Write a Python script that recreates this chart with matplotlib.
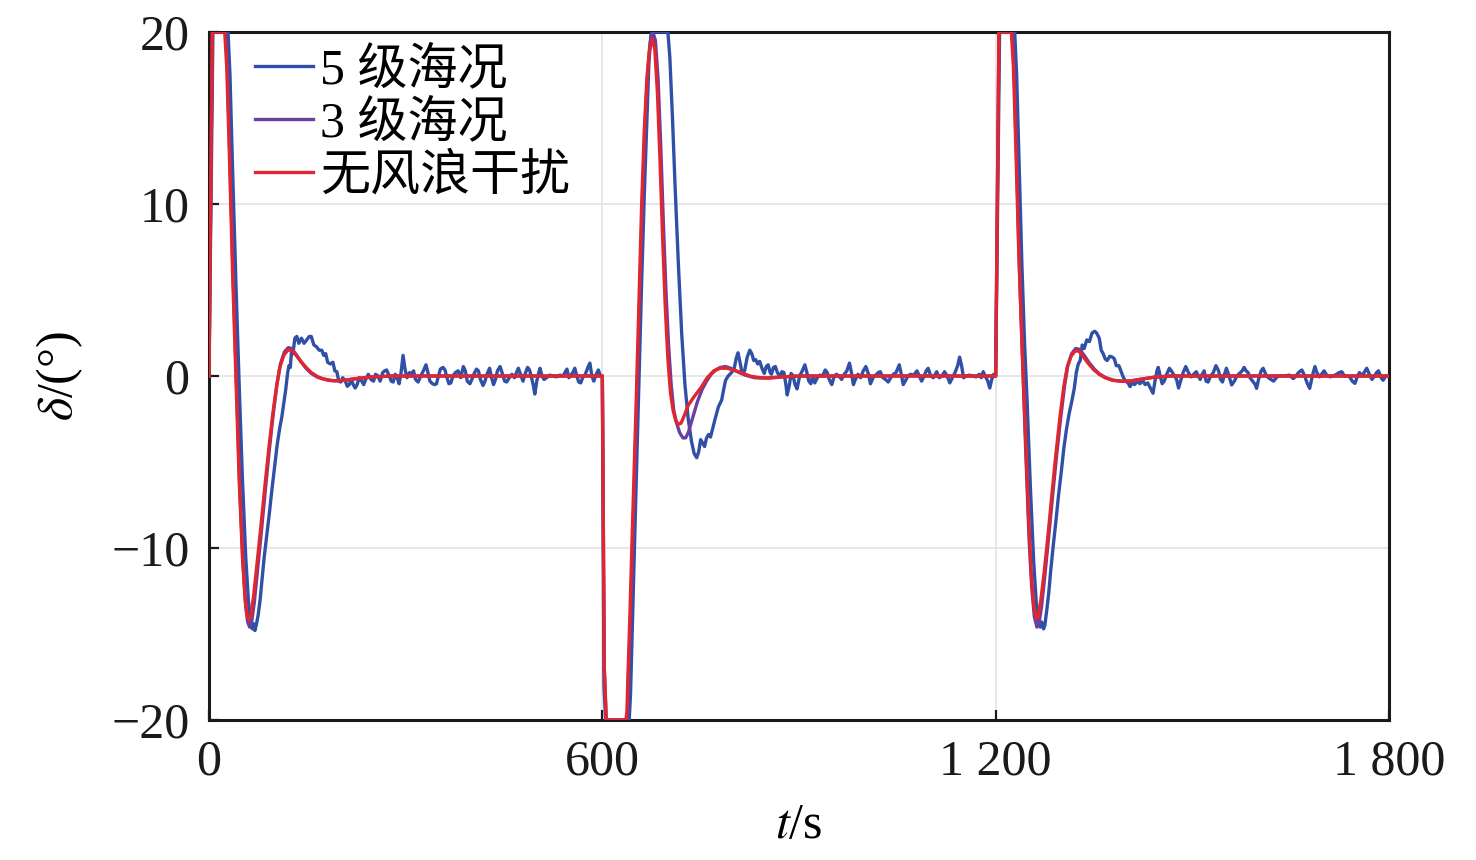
import numpy as np
import matplotlib
matplotlib.use('Agg')
import matplotlib.pyplot as plt
from matplotlib.font_manager import FontProperties

plt.rcParams['font.family'] = ['Liberation Serif', 'Noto Sans CJK SC']
plt.rcParams['mathtext.fontset'] = 'stix'
plt.rcParams['axes.unicode_minus'] = True

labels = ['5 级海况', '3 级海况', '无风浪干扰']
colors = ['#3050a8', '#6a3f9e', '#e0262f']

xticks = [0, 600, 1200, 1800]
xticklabels = ['0', '600', '1 200', '1 800']
yticks = [-20, -10, 0, 10, 20]

# 无风浪干扰 (red)
t_red = [0, 5, 24, 27, 31, 36, 41, 46, 51, 55, 58, 61, 64, 68, 73, 79, 85, 91, 97, 103,
         108, 114, 120, 126, 132, 140, 148, 156, 164, 172, 182, 194, 208, 225, 250, 280, 599,
         600, 603, 606, 636, 637.5, 639, 642, 645, 648.5, 652, 656, 660, 664, 668, 672, 676,
         680, 684, 688, 692, 696, 700, 704, 708, 712, 716, 720, 725, 731, 740, 750, 760, 770,
         780, 790, 800, 812, 825, 840, 855, 875, 900, 1199,
         1200, 1205, 1224, 1227, 1231, 1235, 1240, 1245, 1250, 1254, 1258, 1262, 1265, 1269,
         1274, 1280, 1286, 1292, 1298, 1304, 1309, 1315, 1321, 1327, 1334, 1342, 1350, 1358,
         1367, 1378, 1390, 1405, 1420, 1440, 1465, 1800]
v_red = [0, 20, 20, 18, 13, 6, 0, -6, -10.5, -12.9, -13.9, -14.2, -13.9, -12.8, -11.0, -8.8,
         -6.5, -4.3, -2.3, -0.6, 0.5, 1.2, 1.5, 1.5, 1.25, 0.85, 0.5, 0.2, 0.0, -0.15, -0.25,
         -0.28, -0.25, -0.15, -0.05, 0, 0,
         0, -17, -20, -20, -19.5, -17.5, -14, -10, -5.5, -1, 4.5, 10, 14.3, 17.3, 19.0, 19.6,
         19.0, 16.5, 12.5, 8, 4, 1, -1.0, -2.0, -2.6, -2.8, -2.75, -2.3, -1.7, -1.2, -0.7,
         -0.1, 0.3, 0.45, 0.45, 0.35, 0.2, 0.0, -0.1, -0.12, -0.05, 0, 0,
         0, 20, 20, 18, 13, 7.5, 2, -3, -8, -11.3, -13.3, -14.1, -14.0, -13.0, -11.4, -9.2,
         -6.8, -4.5, -2.4, -0.6, 0.5, 1.15, 1.45, 1.45, 1.1, 0.7, 0.35, 0.1, -0.1, -0.25,
         -0.3, -0.3, -0.2, -0.08, 0, 0]

# 3级海况 (purple)
t_pur = [0, 5, 25, 28, 32, 37, 42, 47, 52, 56, 59, 62, 65, 69, 74, 80, 86, 92, 98, 104,
         109, 115, 121, 126, 132, 140, 148, 156, 166, 178, 190, 205, 225, 250, 280, 599,
         600, 603, 606, 637, 638.5, 640, 643, 646, 649.5, 653, 657, 661, 665, 669, 673, 677,
         681, 685, 689, 693, 697, 701, 705, 709, 713, 718, 723, 727, 731, 738, 745, 752, 759,
         766, 773, 780, 788, 796, 806, 818, 832, 850, 875, 900, 1199,
         1200, 1205, 1225, 1228, 1232, 1236, 1241, 1246, 1251, 1255, 1259, 1263, 1266, 1270,
         1275, 1281, 1287, 1293, 1299, 1305, 1310, 1316, 1322, 1328, 1335, 1343, 1351, 1359,
         1368, 1380, 1392, 1407, 1422, 1442, 1467, 1800]
v_pur = [0, 20, 20, 18, 12.5, 5.5, -0.5, -6.5, -11, -13.4, -14.3, -14.6, -14.3, -13.2, -11.3,
         -9, -6.6, -4.3, -2.2, -0.4, 0.7, 1.4, 1.65, 1.6, 1.3, 0.85, 0.45, 0.15, -0.08, -0.2,
         -0.28, -0.25, -0.15, -0.05, 0, 0,
         0, -17, -20, -20, -19.5, -17.5, -14, -10, -5.5, -1, 4.5, 10, 14.5, 17.6, 19.4, 20,
         19.5, 17.3, 13.5, 9, 5, 1.8, -0.5, -2, -2.7, -3.3, -3.6, -3.6, -3.3, -2.4, -1.5,
         -0.8, -0.3, 0.1, 0.35, 0.5, 0.55, 0.45, 0.25, 0.05, -0.1, -0.12, -0.05, 0, 0,
         0, 20, 20, 18, 12.5, 6.5, 1, -4.5, -9.5, -12.3, -14.0, -14.6, -14.4, -13.4, -11.6,
         -9.3, -6.9, -4.6, -2.5, -0.6, 0.6, 1.3, 1.6, 1.55, 1.2, 0.75, 0.38, 0.1, -0.1, -0.25,
         -0.3, -0.28, -0.18, -0.07, 0, 0]

# 5级海况 (blue)
t_blu = [0, 6, 29, 32, 36, 41, 46, 51, 56, 60, 63, 66, 68, 70, 72, 75, 78, 81, 84, 88,
         92, 96, 100, 104, 108, 111, 114, 117, 120, 122, 124, 126, 128, 131, 134, 137, 141,
         145, 149, 153, 156, 160, 164, 168, 172, 175, 178, 181, 185, 189, 192, 195, 198, 201,
         204, 208, 211, 214, 217, 220, 223, 226, 229, 233, 236, 239, 243, 247, 251, 254, 258,
         261, 265, 268, 271, 275, 278, 281, 284, 287, 290, 293, 296, 299, 302, 306, 309, 312,
         315, 319, 323, 327, 331, 334, 337, 341, 344, 347, 350, 353, 357, 360, 363, 366, 369,
         372, 376, 380, 384, 388, 391, 394, 398, 401, 404, 408, 411, 414, 418, 421, 424, 428,
         431, 434, 437, 440, 444, 447, 451, 454, 458, 462, 466, 469, 472, 476, 479, 482, 486,
         489, 492, 495, 497, 500, 503, 505, 508, 511, 515, 520, 525, 530, 535, 540, 543, 546,
         549, 552, 555, 558, 561, 564, 567, 570, 574, 578, 581, 584, 587, 590, 594, 597, 599.5,
         600, 602.5, 605, 641, 643, 645.5, 649, 652.5, 656, 660, 664, 668, 671, 674, 676, 700,
         703, 707, 711, 716, 721, 726, 731, 736, 740, 744, 747, 750, 753, 756, 759, 762, 765,
         768, 772, 777, 782, 785, 788, 792, 797, 801, 804, 807, 810, 813, 817, 821, 825, 828,
         831, 834, 837, 840, 844, 847, 850, 853, 856, 858, 861, 864, 867, 871, 874, 877, 880,
         882, 885, 888, 891, 894, 897, 901, 905, 909, 912, 915, 918, 921, 924, 928, 932, 936,
         940, 943, 946, 950, 953, 957, 961, 965, 969, 973, 977, 980, 983, 986, 990, 994, 998,
         1002, 1006, 1009, 1013, 1017, 1021, 1024, 1028, 1032, 1036, 1040, 1044, 1048, 1053,
         1056, 1059, 1062, 1066, 1070, 1075, 1080, 1084, 1087, 1091, 1094, 1097, 1101, 1105,
         1110, 1114, 1118, 1122, 1126, 1130, 1134, 1138, 1142, 1145, 1148, 1151, 1155, 1160,
         1165, 1170, 1175, 1178, 1181, 1184, 1188, 1191, 1194, 1197, 1199.5,
         1200, 1206, 1229, 1232, 1236, 1240, 1244, 1248, 1253, 1258, 1262, 1265, 1268, 1270,
         1273, 1275, 1278, 1281, 1284, 1288, 1292, 1296, 1300, 1304, 1308, 1312, 1316, 1320,
         1323, 1326, 1329, 1332, 1335, 1339, 1343, 1347, 1351, 1354, 1358, 1361, 1364, 1367,
         1370, 1374, 1378, 1381, 1384, 1388, 1391, 1395, 1398, 1402, 1405, 1408, 1412, 1416,
         1420, 1424, 1428, 1432, 1436, 1440, 1443, 1446, 1448, 1451, 1454, 1457, 1461, 1465,
         1468, 1472, 1476, 1479, 1482, 1486, 1490, 1494, 1498, 1502, 1506, 1509, 1512, 1515,
         1518, 1521, 1524, 1528, 1532, 1536, 1540, 1543, 1546, 1549, 1552, 1556, 1560, 1564,
         1568, 1572, 1576, 1579, 1582, 1585, 1588, 1592, 1596, 1598, 1601, 1605, 1608, 1612,
         1616, 1620, 1624, 1628, 1632, 1640, 1648, 1654, 1658, 1662, 1667, 1671, 1675, 1679,
         1683, 1687, 1690, 1694, 1698, 1701, 1705, 1710, 1715, 1720, 1724, 1728, 1732, 1736,
         1740, 1744, 1748, 1752, 1755, 1758, 1762, 1766, 1770, 1774, 1778, 1781, 1784, 1788,
         1791, 1795, 1800]
v_blu = [0, 20, 20, 17.5, 12, 5.5, -0.5, -6, -10.5, -13, -14.2, -14.7, -14.4, -14.8, -14.5,
         -13.9, -13.0, -11.8, -10.6, -9.3, -8.0, -6.6, -5.3, -4.0, -3.0, -2.4, -1.6, -0.8, 0.2,
         0.6, 0.5, 1.5, 1.3, 2.2, 2.3, 1.9, 2.2, 1.9, 2.1, 2.3, 2.3, 1.8, 1.7, 1.5, 1.5, 1.2,
         1.3, 0.8, 0.7, 0.8, 0.3, 0.25, -0.3, -0.35, -0.1, -0.3, -0.6, -0.5, -0.2, -0.5, -0.7,
         -0.5, -0.1, -0.3, -0.5, -0.2, 0.1, -0.2, -0.3, 0.1, 0.0, -0.3, 0.2, 0.3, 0.35, 0.0,
         -0.3, -0.35, 0.1, -0.1, -0.45, 0.2, 1.2, 0.4, -0.1, 0.2, 0.1, 0.3, -0.2, -0.35, 0.0,
         0.3, 0.65, 0.2, -0.3, -0.45, -0.5, -0.45, 0.0, 0.4, 0.5, 0.35, -0.1, -0.45, -0.4, 0.0,
         0.2, 0.3, -0.1, 0.55, 0.3, -0.3, -0.45, -0.2, 0.1, 0.4, 0.3, -0.2, -0.55, -0.3, 0.1,
         0.45, -0.1, -0.5, -0.2, 0.3, 0.55, 0.2, -0.3, -0.35, -0.1, 0.1, -0.1, 0.2, 0.45, 0.0,
         -0.3, 0.1, 0.5, 0.35, -0.1, -0.6, -1.05, -0.3, 0.2, 0.45, 0.0, -0.2, -0.1, 0.05, 0.0,
         -0.05, 0.05, 0.0, 0.2, 0.4, -0.1, 0.05, 0.2, 0.45, 0.0, -0.35, -0.4, -0.1, 0.1, 0.5,
         0.75, 0.0, -0.3, 0.05, 0.35, 0.0, 0.0,
         0, -18, -20, -20, -18.5, -15, -10, -5, 0, 5.5, 10.5, 15, 18.2, 19.8, 20, 20, 18.5, 15,
         11, 6.5, 2.5, -0.5, -2.5, -3.8, -4.5, -4.75, -4.4, -3.7, -3.9, -4.1, -3.6, -3.4,
         -3.55, -3.1, -2.5, -1.8, -1.4, -0.8, -0.25, 0.0, 0.2, 0.4, 1.0, 1.35, 0.8, 0.2, 0.3,
         1.1, 1.5, 1.3, 0.9, 0.95, 0.7, 0.85, 0.4, 0.15, 0.55, 0.65, 0.2, 0.1, 0.5, 0.55, 0.2,
         0.0, 0.25, 0.2, -0.5, -1.1, -0.6, 0.15, 0.0, -0.5, -0.75, 0.0, 0.3, 0.65, 0.2, -0.3,
         -0.45, 0.0, -0.4, -0.1, 0.05, 0.0, 0.35, 0.2, -0.2, -0.5, -0.1, 0.1, 0.0, -0.2, 0.1,
         0.3, 0.75, 0.2, -0.5, -0.2, 0.1, -0.1, 0.3, 0.55, 0.1, -0.45, -0.1, 0.05, 0.2, 0.25,
         -0.1, -0.2, -0.35, -0.1, 0.1, 0.2, 0.65, 0.1, -0.5, -0.3, 0.0, 0.1, 0.05, 0.3, -0.05,
         -0.3, 0.0, 0.3, 0.45, 0.0, -0.1, 0.25, -0.1, 0.0, 0.25, 0.0, -0.4, -0.1, 0.2, 0.6, 1.1,
         0.6, -0.1, 0.0, 0.05, 0.0, -0.05, 0.1, -0.1, 0.25, 0.0, -0.3, -0.7, -0.2, 0.1, 0.0,
         0, 20, 20, 17.5, 12, 6.5, 2, -1.5, -6.5, -10.8, -13.2, -14.2, -14.6, -14.3, -14.7,
         -14.5, -13.6, -12.6, -11.3, -9.8, -8.4, -6.9, -5.6, -4.2, -3.1, -2.2, -1.5, -0.7, 0.2,
         0.7, 0.9, 1.8, 1.6, 2.1, 2.0, 2.5, 2.6, 2.5, 2.2, 1.5, 1.3, 1.0, 0.9, 1.15, 1.1, 1.0,
         0.6, 0.6, 0.3, -0.1, -0.3, -0.4, -0.62, -0.4, -0.5, -0.3, -0.45, -0.25, -0.5, -0.4,
         -0.7, -1.0, -0.3, 0.3, 0.5, 0.0, -0.45, -0.3, 0.1, 0.45, 0.3, 0.05, -0.2, -0.7, -0.3,
         0.2, 0.55, 0.2, -0.05, 0.1, 0.25, 0.0, -0.2, 0.1, 0.3, -0.3, -0.35, 0.0, 0.2, 0.6,
         0.3, -0.2, -0.35, 0.1, 0.45, 0.0, -0.52, -0.3, 0.0, 0.15, 0.3, 0.5, 0.3, 0.2, -0.1,
         -0.3, -0.5, -0.72, -0.2, 0.3, 0.45, 0.1, -0.1, -0.2, -0.3, -0.1, 0.0, 0.0, 0.05,
         -0.15, 0.0, 0.2, 0.35, 0.05, -0.4, -0.72, 0.0, 0.55, 0.2, -0.05, 0.15, 0.3, 0.05,
         -0.05, 0.0, 0.1, 0.2, 0.25, 0.0, 0.0, -0.05, -0.3, -0.43, 0.0, 0.2, 0.0, 0.2, 0.45,
         0.1, -0.2, 0.0, 0.2, 0.3, -0.1, -0.25, 0.0, 0.0]

fig = plt.figure(figsize=(14.76, 8.6), dpi=100)
ax = fig.add_axes([209 / 1476, 140 / 860, 1180 / 1476, 688 / 860])

lw = 2.4
ax.plot(t_blu, v_blu, color=colors[0], lw=lw, label=labels[0], zorder=3)
ax.plot(t_pur, v_pur, color=colors[1], lw=lw, label=labels[1], zorder=4)
ax.plot(t_red, v_red, color=colors[2], lw=lw, label=labels[2], zorder=5)

ax.set_xlim(0, 1800)
ax.set_ylim(-20, 20)
ax.set_xticks(xticks)
ax.set_xticklabels(xticklabels)
ax.set_yticks(yticks)
ax.grid(True, color='#e3e3e3', lw=1.2, zorder=0)
ax.set_axisbelow(True)

for s in ax.spines.values():
    s.set_linewidth(2.2)
    s.set_color('#1a1a1a')
ax.tick_params(direction='in', length=7, width=1.6, labelsize=36, pad=14,
               top=False, right=False, colors='#1a1a1a')

ax.set_xlabel(r'$t$/s', fontsize=36)
ax.set_ylabel(r'$\delta$/(°)', fontsize=36)
ax.xaxis.set_label_coords(0.5, -0.12)
ax.yaxis.set_label_coords(-0.105, 0.5)

leg_font = FontProperties(family=['Liberation Serif', 'Noto Sans CJK SC'], size=36)
leg = ax.legend(loc='upper left', bbox_to_anchor=(0.039, 0.977), frameon=False,
                prop=leg_font, handlelength=1.15, handletextpad=0.15,
                labelspacing=0.12, borderpad=0, borderaxespad=0)
for h in leg.get_lines():
    h.set_linewidth(2.4)

fig.savefig('out.png', dpi=100)
